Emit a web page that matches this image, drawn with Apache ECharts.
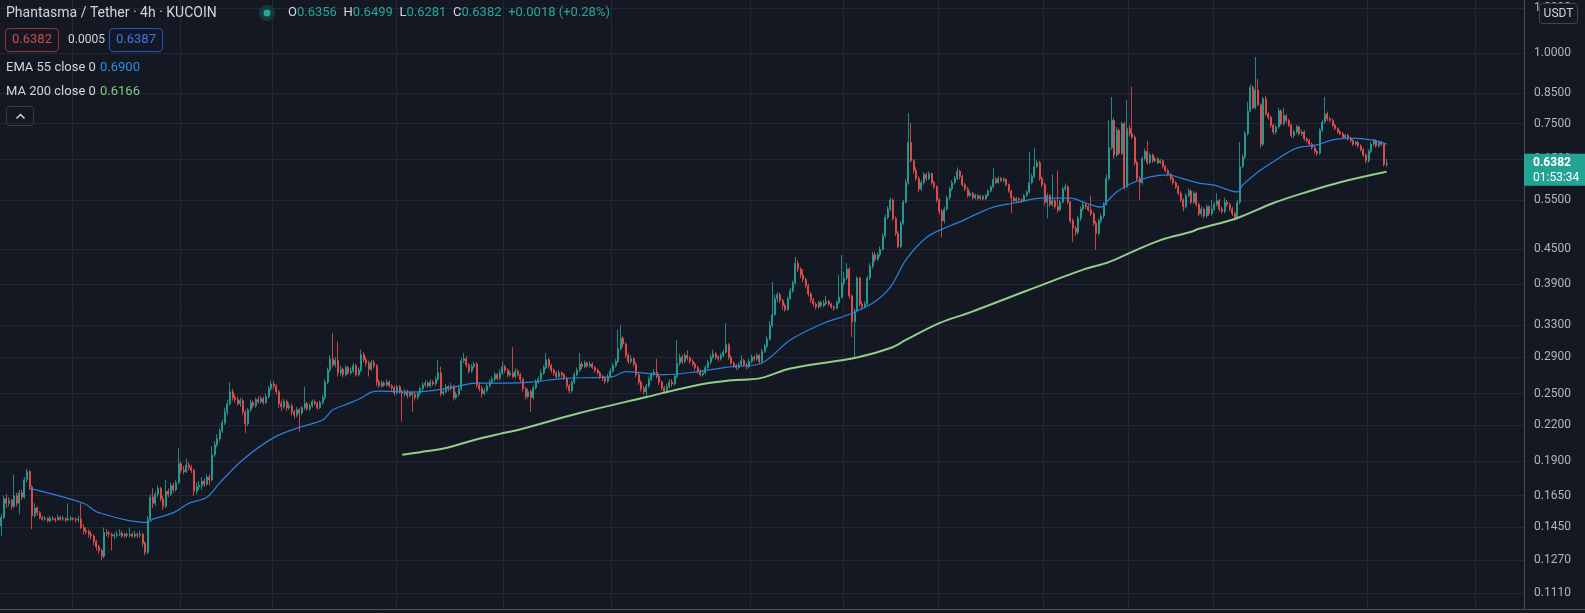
<!DOCTYPE html>
<html><head><meta charset="utf-8">
<script src="https://cdn.jsdelivr.net/npm/echarts/dist/echarts.min.js"></script>
<style>html,body{margin:0;padding:0;background:#141823;overflow:hidden}#c{width:1585px;height:613px}</style>
</head><body><div id="c"></div>
<script>
// ---- data (4h candles, PHA/USDT) ----
const firstOpen = 0.146;
const closes = [
.151,.163,.160,.162,.158,.165,.160,.167,.164,.176,
.182,.171,.152,.157,.154,.151,.150,.1505,.149,.1505,
.150,.1495,.151,.150,.1505,.1495,.150,.1505,.150,.1495,
.150,.145,.143,.1425,.141,.140,.137,.134,.132,.129,
.142,.1415,.141,.140,.1405,.141,.1415,.140,.141,.1405,
.141,.140,.141,.1405,.141,.136,.131,.150,.164,.160,
.166,.170,.163,.158,.168,.166,.172,.169,.174,.188,
.183,.182,.187,.185,.183,.168,.171,.172,.175,.173,
.178,.176,.195,.203,.208,.215,.222,.232,.240,.252,
.246,.244,.240,.243,.232,.221,.234,.241,.238,.244,
.242,.245,.241,.247,.255,.260,.258,.252,.240,.237,
.242,.236,.238,.232,.229,.234,.231,.236,.240,.235,
.238,.242,.240,.236,.241,.246,.262,.275,.288,.281,
.286,.272,.276,.270,.278,.272,.274,.280,.270,.275,
.293,.287,.283,.276,.284,.280,.262,.258,.261,.259,
.262,.258,.256,.251,.257,.252,.250,.252,.248,.251,
.249,.246,.250,.255,.259,.261,.258,.262,.260,.265,
.272,.250,.252,.257,.255,.258,.246,.249,.255,.286,
.288,.281,.274,.279,.282,.259,.255,.250,.253,.258,
.262,.265,.270,.266,.272,.279,.275,.270,.272,.268,
.274,.270,.265,.255,.247,.252,.246,.256,.262,.265,
.272,.278,.287,.280,.275,.272,.268,.272,.270,.266,
.258,.253,.262,.270,.275,.282,.279,.283,.280,.282,
.278,.275,.272,.268,.266,.263,.268,.274,.280,.285,
.300,.313,.306,.292,.285,.288,.282,.270,.262,.255,
.252,.258,.265,.270,.273,.268,.262,.256,.252,.257,
.262,.260,.268,.283,.290,.285,.292,.289,.285,.282,
.278,.274,.270,.272,.278,.284,.290,.294,.290,.288,
.292,.296,.305,.290,.283,.280,.278,.281,.286,.281,
.279,.285,.290,.288,.292,.285,.297,.303,.312,.330,
.345,.368,.374,.365,.358,.352,.368,.380,.392,.425,
.415,.405,.398,.388,.375,.366,.360,.356,.362,.358,
.361,.364,.360,.356,.354,.362,.370,.392,.400,.415,
.372,.335,.350,.400,.360,.356,.360,.400,.420,.440,
.432,.440,.450,.475,.512,.530,.550,.510,.480,.455,
.500,.545,.590,.695,.645,.620,.600,.575,.590,.610,
.600,.612,.590,.580,.550,.525,.505,.530,.555,.575,
.590,.600,.618,.605,.585,.575,.560,.565,.555,.560,
.553,.558,.552,.560,.570,.580,.598,.590,.600,.595,
.598,.585,.570,.555,.548,.552,.550,.548,.560,.568,
.590,.605,.630,.640,.600,.585,.545,.560,.540,.548,
.535,.528,.545,.575,.580,.545,.505,.490,.482,.510,
.530,.540,.535,.528,.520,.500,.480,.505,.515,.540,
.600,.680,.760,.660,.730,.665,.750,.580,.735,.720,
.710,.640,.600,.590,.650,.670,.640,.660,.645,.650,
.640,.645,.630,.620,.610,.600,.590,.580,.565,.550,
.535,.560,.570,.545,.565,.540,.520,.530,.515,.535,
.520,.530,.540,.548,.530,.525,.545,.540,.530,.520,
.512,.545,.630,.655,.720,.790,.870,.800,.860,.810,
.690,.830,.780,.770,.745,.725,.740,.790,.750,.775,
.760,.745,.715,.725,.740,.720,.725,.705,.700,.690,
.680,.670,.665,.730,.755,.780,.765,.760,.745,.735,
.725,.720,.710,.715,.705,.700,.690,.695,.685,.675,
.660,.645,.670,.690,.700,.685,.695,.690,.6356,.6382
];
const highs = [
.153,.165,.166,.164,.163,.180,.167,.169,.169,.178,
.184,.183,.172,.160,.158,.155,.152,.152,.151,.152,
.152,.151,.153,.152,.152,.151,.160,.152,.151,.151,
.152,.160,.147,.145,.144,.143,.141,.138,.135,.133,
.145,.144,.143,.142,.142,.143,.144,.143,.142,.142,
.145,.142,.143,.142,.143,.142,.137,.152,.166,.170,
.168,.172,.171,.165,.176,.170,.174,.174,.176,.200,
.190,.186,.192,.189,.187,.184,.174,.175,.178,.177,
.180,.180,.202,.206,.212,.217,.225,.236,.244,.262,
.255,.249,.247,.246,.245,.234,.236,.244,.243,.246,
.247,.248,.247,.250,.258,.264,.263,.260,.254,.243,
.245,.244,.241,.240,.234,.237,.236,.238,.257,.242,
.240,.244,.244,.242,.243,.249,.265,.278,.292,.320,
.290,.309,.280,.278,.281,.280,.278,.283,.282,.278,
.299,.296,.290,.286,.287,.287,.282,.265,.264,.263,
.265,.264,.260,.258,.259,.259,.254,.255,.254,.253,
.253,.251,.252,.257,.262,.264,.263,.265,.264,.268,
.287,.279,.256,.260,.259,.261,.259,.252,.258,.289,
.295,.291,.283,.282,.285,.284,.262,.258,.256,.260,
.265,.268,.273,.272,.276,.285,.281,.277,.275,.302,
.277,.276,.272,.267,.257,.255,.254,.258,.265,.268,
.276,.281,.295,.289,.282,.277,.274,.275,.274,.272,
.268,.260,.264,.273,.278,.295,.285,.286,.285,.285,
.284,.280,.277,.274,.270,.268,.271,.277,.283,.288,
.324,.330,.316,.308,.295,.292,.290,.284,.272,.264,
.258,.260,.268,.273,.276,.288,.270,.264,.258,.260,
.265,.265,.271,.311,.294,.293,.295,.298,.291,.288,
.284,.280,.276,.275,.281,.287,.293,.299,.296,.292,
.295,.299,.333,.307,.292,.285,.282,.284,.292,.288,
.284,.288,.293,.292,.295,.294,.300,.306,.316,.336,
.394,.374,.378,.377,.368,.361,.371,.384,.396,.436,
.430,.418,.415,.401,.391,.378,.369,.363,.365,.365,
.366,.372,.366,.362,.358,.365,.405,.440,.410,.425,
.418,.375,.354,.403,.402,.364,.364,.404,.425,.445,
.446,.444,.455,.480,.518,.536,.555,.553,.514,.484,
.505,.550,.598,.783,.752,.650,.628,.605,.596,.616,
.614,.618,.615,.594,.584,.554,.530,.535,.560,.580,
.596,.606,.628,.622,.610,.590,.580,.570,.568,.564,
.563,.562,.561,.564,.574,.584,.626,.603,.605,.604,
.603,.601,.588,.573,.558,.556,.555,.554,.563,.572,
.668,.612,.680,.648,.645,.605,.590,.565,.563,.610,
.552,.620,.550,.580,.588,.584,.548,.510,.495,.515,
.535,.546,.544,.540,.560,.524,.505,.510,.520,.545,
.610,.761,.836,.768,.740,.735,.756,.755,.826,.745,
.871,.715,.645,.606,.656,.678,.700,.666,.664,.656,
.654,.650,.648,.634,.624,.614,.604,.594,.584,.570,
.554,.565,.576,.574,.570,.568,.544,.536,.534,.540,
.538,.550,.545,.565,.552,.535,.555,.550,.544,.535,
.524,.550,.696,.662,.728,.820,.880,.876,.984,.900,
.815,.836,.840,.786,.775,.750,.746,.800,.795,.800,
.780,.765,.750,.732,.746,.745,.732,.730,.710,.705,
.695,.686,.675,.736,.762,.836,.788,.772,.766,.750,
.740,.730,.725,.720,.720,.710,.705,.700,.700,.690,
.680,.665,.676,.696,.705,.704,.700,.700,.694,.6499
];
const lows = [
.140,.150,.157,.158,.156,.157,.158,.153,.162,.163,
.174,.169,.144,.151,.152,.150,.149,.149,.148,.148,
.149,.148,.149,.149,.149,.148,.149,.149,.149,.148,
.148,.144,.141,.141,.139,.138,.135,.132,.130,.127,
.128,.140,.139,.132,.138,.139,.140,.139,.139,.139,
.139,.139,.139,.139,.139,.134,.1295,.130,.149,.157,
.158,.164,.161,.156,.157,.164,.165,.167,.168,.173,
.181,.180,.181,.183,.181,.165,.166,.169,.169,.171,
.172,.172,.175,.193,.201,.206,.213,.220,.229,.238,
.243,.241,.238,.237,.229,.213,.219,.232,.236,.236,
.240,.240,.239,.240,.245,.253,.255,.249,.236,.233,
.235,.233,.234,.229,.226,.227,.214,.229,.234,.233,
.233,.236,.238,.234,.235,.239,.244,.260,.273,.278,
.278,.268,.269,.267,.268,.270,.270,.272,.268,.268,
.273,.284,.279,.268,.274,.277,.258,.256,.256,.257,
.257,.256,.253,.248,.249,.250,.223,.247,.245,.246,
.232,.243,.244,.248,.253,.257,.256,.256,.258,.258,
.263,.247,.248,.250,.252,.253,.243,.244,.247,.253,
.283,.278,.271,.272,.277,.256,.252,.246,.248,.251,
.256,.260,.263,.264,.264,.270,.272,.267,.268,.266,
.266,.268,.262,.252,.244,.245,.232,.244,.254,.260,
.263,.270,.276,.277,.272,.269,.266,.266,.267,.264,
.255,.250,.251,.260,.268,.273,.276,.277,.278,.278,
.276,.272,.270,.265,.263,.260,.261,.266,.272,.278,
.283,.298,.302,.289,.282,.282,.279,.267,.259,.252,
.249,.246,.256,.263,.268,.266,.259,.253,.250,.250,
.255,.257,.258,.266,.280,.282,.283,.286,.282,.279,
.275,.271,.268,.268,.270,.276,.282,.288,.287,.285,
.286,.290,.294,.287,.281,.277,.275,.276,.279,.279,
.276,.277,.283,.285,.286,.282,.283,.295,.301,.310,
.327,.343,.363,.361,.352,.349,.350,.366,.377,.390,
.410,.400,.393,.384,.371,.362,.356,.352,.353,.355,
.355,.358,.357,.353,.350,.352,.360,.368,.388,.397,
.368,.315,.290,.348,.356,.352,.354,.358,.397,.416,
.428,.429,.436,.447,.472,.508,.525,.505,.475,.452,
.452,.497,.542,.585,.640,.612,.594,.568,.570,.585,
.595,.596,.585,.575,.545,.518,.472,.500,.526,.550,
.570,.585,.596,.598,.580,.570,.555,.556,.550,.551,
.549,.550,.548,.549,.557,.567,.577,.586,.587,.591,
.590,.581,.566,.521,.544,.545,.546,.544,.546,.557,
.565,.586,.600,.625,.595,.578,.538,.510,.535,.535,
.530,.522,.525,.542,.570,.540,.500,.463,.475,.478,
.505,.525,.530,.524,.515,.495,.449,.476,.500,.510,
.537,.595,.675,.650,.655,.660,.660,.573,.578,.712,
.705,.632,.594,.550,.585,.645,.635,.636,.640,.641,
.636,.636,.625,.615,.605,.595,.585,.575,.560,.545,
.525,.531,.555,.540,.541,.535,.515,.514,.510,.511,
.515,.516,.526,.536,.525,.520,.521,.535,.525,.515,
.505,.508,.540,.625,.650,.715,.785,.795,.795,.805,
.680,.685,.775,.762,.738,.718,.718,.735,.744,.745,
.754,.740,.708,.708,.720,.715,.714,.700,.694,.685,
.675,.664,.658,.660,.725,.750,.758,.754,.740,.730,
.720,.715,.705,.705,.700,.695,.685,.686,.680,.670,
.655,.638,.640,.665,.685,.680,.680,.684,.630,.6281
];
// EMA 55 line, read at candle indices
const emaIdx = [11,32,38,57,59,67,73,80,85,94,106,116,125,129,135,140,144,147,160,173,185,194,206,219,238,243,258,271,284,295,307,320,329,339,346,352,360,368,373,377,386,394,405,416,422,428,430,434,440,447,454,459,466,472,481,483,489,496,504,512,518,525,533,539];
const emaVal = [.170,.160,.154,.148,.150,.154,.160,.164,.1738,.191,.209,.218,.2245,.234,.240,.2455,.2515,.2525,.2515,.255,.261,.261,.262,.266,.268,.2735,.270,.2735,.279,.282,.311,.333,.344,.361,.386,.431,.472,.4925,.503,.513,.534,.543,.554,.554,.543,.534,.545,.568,.589,.604,.609,.601,.589,.584,.568,.584,.616,.647,.679,.688,.702,.707,.702,.690];
// MA 200 line, read at candle indices
const maIdx = [156,163,173,184,194,201,225,251,271,284,295,307,333,346,352,365,377,399,421,431,440,451,463,466,481,495,508,521,539];
const maVal = [.195,.197,.2003,.207,.2122,.2156,.231,.2465,.259,.264,.266,.277,.2897,.301,.311,.333,.348,.380,.414,.427,.445,.467,.483,.489,.511,.543,.568,.591,.6166];
// price-scale tick labels
const priceTicks = [1.2, 1.0, 0.85, 0.75, 0.65, 0.55, 0.45, 0.39, 0.33, 0.29, 0.25, 0.22, 0.19, 0.165, 0.145, 0.127, 0.111];
// candle indices where the time grid lines fall
const timeGridIdx = [28,70,106,154,196,238,292,328,365,406,439,472,532,574];
const emptyBarsRight = 53;
const priceMin = 0.10405, priceMax = 1.2407;
const header = {symbol: 'Phantasma / Tether · 4h · KUCOIN', o: '0.6356', h: '0.6499', l: '0.6281', c: '0.6382', chg: '+0.0018 (+0.28%)', bid: '0.6382', spread: '0.0005', ask: '0.6387', ema: '0.6900', ma: '0.6166', countdown: '01:53:34'};

// ---- build ----
const N = closes.length;
const cats = [];
for (let i = 0; i < N + emptyBarsRight; i++) cats.push(String(i));
const opens = [firstOpen].concat(closes.slice(0, N - 1));
const ohlc = closes.map((c, i) => {
  const o = opens[i];
  return [o, c, Math.min(lows[i], o, c), Math.max(highs[i], o, c)];
});
const ema = new Array(N).fill(null); emaIdx.forEach((k, j) => { ema[k] = emaVal[j]; });
const ma = new Array(N).fill(null); maIdx.forEach((k, j) => { ma[k] = maVal[j]; });
const gridSet = new Set(timeGridIdx);
const lnTicks = priceTicks.map(v => Math.log(v));

const BG = '#141823', GRID = '#232733', AX = '#4b4f5a', TXT = '#d1d4dc';
const UP = '#26a69a', DN = '#ef5350';
const FONT = 'Roboto, "Noto Sans", sans-serif';

const chart = echarts.init(document.getElementById('c'), null, {renderer: 'canvas'});
chart.setOption({
  backgroundColor: BG,
  animation: false,
  grid: {left: 0, right: 61, top: 0, bottom: 4, containLabel: false, outerBoundsMode: 'none'},
  xAxis: {
    type: 'category', data: cats, boundaryGap: true,
    axisLabel: {show: false}, axisTick: {show: false},
    axisLine: {show: true, onZero: false, lineStyle: {color: AX, width: 1}},
    splitLine: {show: true, interval: (idx) => gridSet.has(idx), lineStyle: {color: GRID, width: 1}}
  },
  yAxis: [
    {
      // price scale (logarithmic) used by every mark
      type: 'log', logBase: 10, min: priceMin, max: priceMax, position: 'right',
      axisLine: {show: true, onZero: false, lineStyle: {color: AX, width: 1}},
      axisTick: {show: false}, axisLabel: {show: false}, splitLine: {show: false}
    },
    {
      // same scale in natural-log units, only for the tick labels / grid
      type: 'value', min: Math.log(priceMin), max: Math.log(priceMax), position: 'right',
      axisLine: {show: false, onZero: false},
      axisTick: {show: false, customValues: lnTicks},
      axisLabel: {show: true, customValues: lnTicks, margin: 10, color: '#b2b5be', fontSize: 12, fontFamily: FONT,
                  formatter: (v) => Math.exp(v).toFixed(4)},
      splitLine: {show: true, lineStyle: {color: GRID, width: 1}}
    }
  ],
  series: [
    {
      type: 'candlestick', yAxisIndex: 0, z: 3, data: ohlc, barWidth: 1.5,
      itemStyle: {color: UP, color0: DN, borderColor: UP, borderColor0: DN, borderWidth: 0.8}
    },
    {
      type: 'line', yAxisIndex: 0, data: ema, connectNulls: true, smooth: 0.35, showSymbol: false, z: 4, silent: true,
      lineStyle: {color: '#2c80dc', width: 1.2}
    },
    {
      type: 'line', yAxisIndex: 0, data: ma, connectNulls: true, smooth: 0.35, showSymbol: false, z: 4, silent: true,
      lineStyle: {color: '#8fcf8a', width: 2}
    }
  ]
});

const py = chart.convertToPixel({yAxisIndex: 0}, closes[N - 1]);
const t = (x, y, text, fill, size, extra) => Object.assign({type: 'text', x: x, y: y, z: 100,
  style: Object.assign({text: text, fill: fill, fontSize: size, fontFamily: FONT, verticalAlign: 'middle', align: 'left'}, extra || {})});
chart.setOption({
  graphic: [
    t(6, 13, header.symbol, TXT, 14),
    {type: 'circle', z: 100, shape: {cx: 267, cy: 13, r: 8}, style: {fill: '#173a37'}},
    {type: 'circle', z: 101, shape: {cx: 267, cy: 13, r: 3.5}, style: {fill: UP}},
    {type: 'text', x: 288, y: 13, z: 100, style: {
      text: '{k|O}{v|' + header.o + '}  {k|H}{v|' + header.h + '}  {k|L}{v|' + header.l + '}  {k|C}{v|' + header.c + '}  {v|' + header.chg + '}',
      verticalAlign: 'middle', align: 'left',
      rich: {k: {fill: TXT, fontSize: 13, fontFamily: FONT}, v: {fill: UP, fontSize: 13, fontFamily: FONT}}
    }},
    {type: 'rect', z: 100, shape: {x: 5.5, y: 28.5, width: 53, height: 23, r: 4}, style: {fill: 'rgba(0,0,0,0)', stroke: '#9c3338', lineWidth: 1}},
    t(32, 40, header.bid, '#d2474c', 13, {align: 'center'}),
    t(68, 40, header.spread, TXT, 12),
    {type: 'rect', z: 100, shape: {x: 109.5, y: 28.5, width: 53, height: 23, r: 4}, style: {fill: 'rgba(0,0,0,0)', stroke: '#2b52c4', lineWidth: 1}},
    t(136, 40, header.ask, '#3f72f0', 13, {align: 'center'}),
    t(6, 68, 'EMA 55 close 0', TXT, 13),
    t(100, 68, header.ema, '#2f8fe6', 13),
    t(6, 92, 'MA 200 close 0', TXT, 13),
    t(100, 92, header.ma, '#81c784', 13),
    {type: 'rect', z: 100, shape: {x: 6.5, y: 106.5, width: 27, height: 19, r: 3}, style: {fill: 'rgba(0,0,0,0)', stroke: '#3a3e49', lineWidth: 1}},
    {type: 'polyline', z: 100, shape: {points: [[16.5, 118.5], [20.5, 114.5], [24.5, 118.5]]}, style: {fill: null, stroke: TXT, lineWidth: 1.5}},
    {type: 'rect', z: 100, shape: {x: 1539.5, y: 3.5, width: 38, height: 20, r: 3}, style: {fill: BG, stroke: '#434651', lineWidth: 1}},
    t(1558.5, 13.5, 'USDT', TXT, 12, {align: 'center'}),
    {type: 'line', z: 100, shape: {x1: 1524, y1: 609.5, x2: 1585, y2: 609.5}, style: {stroke: AX, lineWidth: 1}},
    {type: 'rect', z: 100, shape: {x: 1524, y: py - 9.5, width: 61, height: 32}, style: {fill: '#22a393'}},
    t(1533, py, header.c, '#ffffff', 12, {fontWeight: 'bold'}),
    t(1533, py + 14.5, header.countdown, '#ffffff', 12)
  ]
});
</script>
</body></html>
